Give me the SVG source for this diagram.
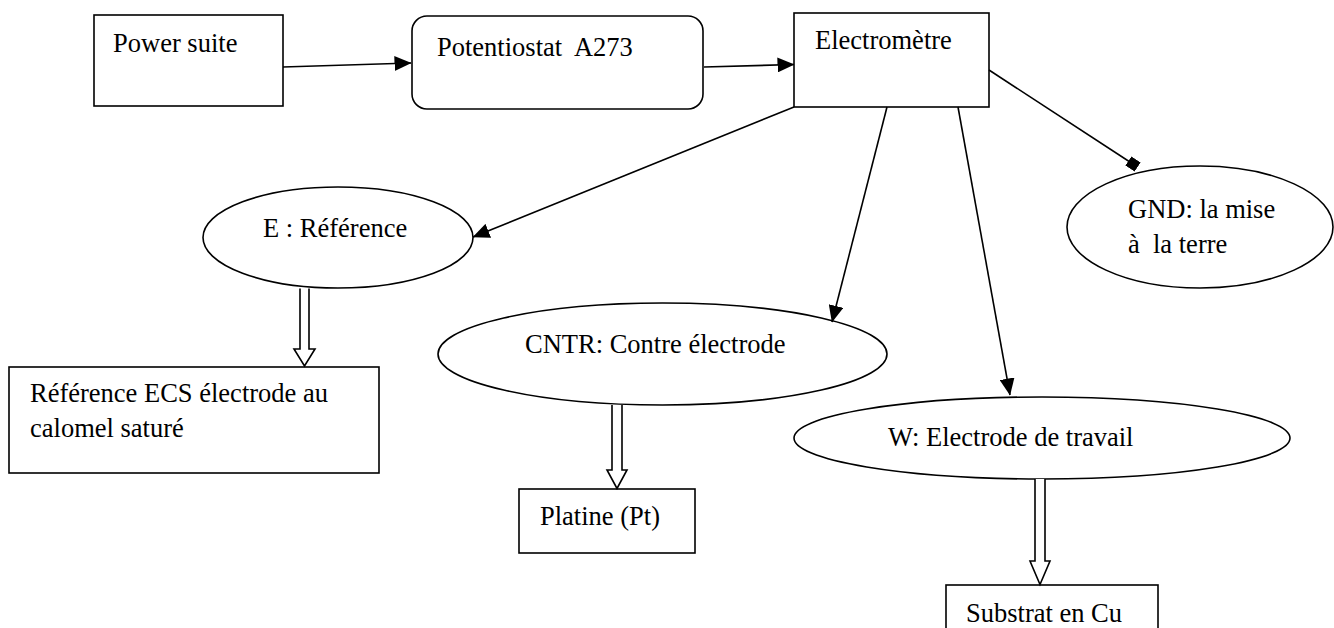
<svg xmlns="http://www.w3.org/2000/svg" width="1334" height="628" viewBox="0 0 1334 628">
  <style>
    .box { fill: #fff; stroke: #000; stroke-width: 1.6; }
    .lbl { font-family: "Liberation Serif", "Times New Roman", serif; font-size: 26.5px; fill: #000; }
    .wire { fill: none; stroke: #000; stroke-width: 1.6; }
    .hollow { fill: #fff; stroke: #000; stroke-width: 1.6; stroke-linejoin: miter; }
  </style>
  <defs>
    <marker id="head" markerUnits="userSpaceOnUse" viewBox="0 0 17 15" markerWidth="17" markerHeight="15" refX="16.5" refY="7.5" orient="auto">
      <path d="M0,0 L17,7.5 L0,15 Z" fill="#000"/>
    </marker>
    <marker id="square" markerUnits="userSpaceOnUse" viewBox="0 0 11 11" markerWidth="11" markerHeight="11" refX="5.5" refY="5.5" orient="auto">
      <rect width="11" height="11" fill="#000"/>
    </marker>
  </defs>
  <rect width="1334" height="628" fill="#fff"/>

  <g id="power-suite">
    <rect class="box" x="94" y="15" width="189" height="91"/>
    <text class="lbl" x="113" y="52">Power suite</text>
  </g>

  <g id="potentiostat">
    <rect class="box" x="412" y="16" width="291" height="93" rx="15" ry="15"/>
    <text class="lbl" x="437" y="56" xml:space="preserve">Potentiostat  A273</text>
  </g>

  <g id="electrometre">
    <rect class="box" x="794" y="13" width="195" height="94"/>
    <text class="lbl" x="815" y="49">Electromètre</text>
  </g>

  <g id="reference">
    <ellipse class="box" cx="338" cy="237.5" rx="135" ry="50.5"/>
    <text class="lbl" x="263" y="237">E : Référence</text>
  </g>

  <g id="gnd">
    <ellipse class="box" cx="1200" cy="227" rx="133" ry="61"/>
    <text class="lbl" x="1128" y="218">GND: la mise</text>
    <text class="lbl" x="1128" y="253" xml:space="preserve">à  la terre</text>
  </g>

  <g id="contre-electrode">
    <ellipse class="box" cx="662.5" cy="354" rx="224.5" ry="51"/>
    <text class="lbl" x="525" y="353">CNTR: Contre électrode</text>
  </g>

  <g id="electrode-travail">
    <ellipse class="box" cx="1042" cy="438" rx="248" ry="41"/>
    <text class="lbl" x="888" y="446">W: Electrode de travail</text>
  </g>

  <g id="ecs">
    <rect class="box" x="9" y="367" width="370" height="106"/>
    <text class="lbl" x="30" y="402">Référence ECS électrode au</text>
    <text class="lbl" x="30" y="437">calomel saturé</text>
  </g>

  <g id="platine">
    <rect class="box" x="519" y="489" width="176" height="64"/>
    <text class="lbl" x="540" y="525">Platine (Pt)</text>
  </g>

  <g id="substrat">
    <rect class="box" x="946" y="585" width="212" height="60"/>
    <text class="lbl" x="966" y="622">Substrat en Cu</text>
  </g>

  <g id="connectors">
    <line class="wire" x1="283" y1="67" x2="411" y2="63" marker-end="url(#head)"/>
    <line class="wire" x1="704" y1="67" x2="794" y2="64.5" marker-end="url(#head)"/>
    <line class="wire" x1="794" y1="107" x2="473" y2="237" marker-end="url(#head)"/>
    <line class="wire" x1="887" y1="107" x2="832" y2="322" marker-end="url(#head)"/>
    <line class="wire" x1="958" y1="107" x2="1010" y2="395" marker-end="url(#head)"/>
    <line class="wire" x1="989" y1="70" x2="1133" y2="164" marker-end="url(#square)"/>
    <!-- hollow block arrows towards the electrode materials -->
    <path class="hollow" d="M300,288.5 V349 H294 L304.5,366 L315,349 H309 V288.5"/>
    <path class="hollow" d="M612,405 V470 H607 L617,488.5 L627,470 H622 V405"/>
    <path class="hollow" d="M1035,479 V561 H1030 L1040,584.5 L1050,561 H1045 V479"/>
  </g>
</svg>
